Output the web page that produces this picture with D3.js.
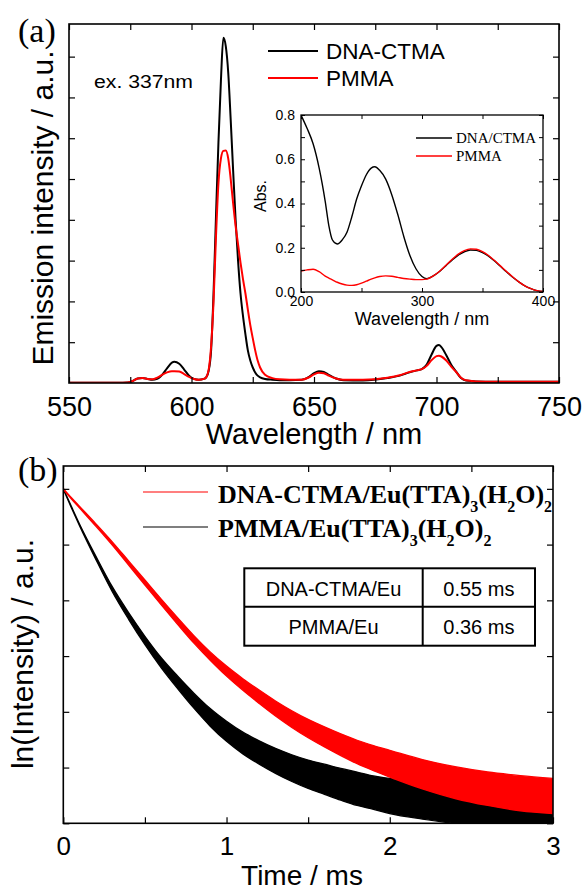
<!DOCTYPE html>
<html><head><meta charset="utf-8">
<script src="https://cdn.jsdelivr.net/npm/d3@7"></script>
<style>
html,body{margin:0;padding:0;background:#fff;}
svg{display:block;}
text{font-family:"Liberation Sans",Arial,sans-serif;fill:#000;}
.serif{font-family:"Liberation Serif","Times New Roman",serif;}
</style></head>
<body>
<svg id="c" width="587" height="891"></svg>
<script>
// ---------- Panel (a): emission spectra ----------
const emWavelength = [550,570,574,576,578,580,582,584,586,588,590,592,593,595,597,599,601,603,605,606,607,608,609,610,611,612,613,614,615,616,617,618,619,620,621,622,623,624,625,626,627,628,630,633,636,640,645,648,650,652,654,656,659,662,670,680,685,689,692,694,696,698,700,701,702,704,706,708,710,712,720,735,750];
const emDNA = [0.005,0.005,0.01,0.05,0.11,0.12,0.1,0.08,0.1,0.2,0.36,0.5,0.52,0.47,0.33,0.18,0.1,0.08,0.1,0.14,0.3,0.8,2.2,4.1,5.9,7.4,8.46,8.25,7.6,6.45,5.2,4.0,3.0,2.2,1.65,1.2,0.8,0.55,0.38,0.26,0.18,0.14,0.1,0.08,0.07,0.07,0.08,0.15,0.24,0.29,0.27,0.2,0.11,0.07,0.06,0.12,0.18,0.26,0.31,0.34,0.45,0.7,0.91,0.93,0.88,0.68,0.45,0.28,0.12,0.06,0.03,0.03,0.03];
const emPMMA = [0.005,0.005,0.01,0.05,0.11,0.12,0.1,0.09,0.13,0.2,0.26,0.29,0.29,0.28,0.22,0.15,0.1,0.08,0.1,0.14,0.32,0.9,2.0,3.6,4.9,5.5,5.69,5.7,5.5,5.0,4.4,3.85,3.4,2.95,2.55,2.2,1.8,1.42,1.1,0.8,0.55,0.38,0.2,0.12,0.09,0.08,0.08,0.14,0.21,0.25,0.24,0.18,0.11,0.08,0.08,0.13,0.19,0.27,0.31,0.34,0.42,0.56,0.66,0.67,0.65,0.55,0.4,0.27,0.13,0.07,0.03,0.03,0.03];
const emXTicks = [550,575,600,625,650,675,700,725,750];
const emYTicks = [1,2,3,4,5,6,7,8];

// inset: absorption
const absWavelength = [200,205,210,215,220,223,226,230,234,238,242,246,250,254,258,261,265,270,275,280,285,290,295,300,304,310,315,320,325,330,335,340,345,350,355,360,365,370,375,380,385,390,395,400];
const absDNA = [0.8,0.74,0.67,0.56,0.41,0.3,0.235,0.217,0.235,0.27,0.34,0.42,0.48,0.53,0.56,0.566,0.55,0.51,0.44,0.35,0.25,0.165,0.105,0.07,0.06,0.075,0.095,0.12,0.145,0.167,0.182,0.19,0.188,0.178,0.162,0.14,0.115,0.09,0.067,0.046,0.028,0.015,0.006,0.002];
const absPMMA = [0.095,0.1,0.103,0.092,0.072,0.063,0.055,0.044,0.036,0.031,0.03,0.033,0.04,0.049,0.058,0.064,0.07,0.073,0.071,0.066,0.061,0.058,0.056,0.056,0.058,0.075,0.096,0.122,0.148,0.171,0.187,0.195,0.193,0.182,0.165,0.142,0.117,0.092,0.068,0.046,0.028,0.015,0.006,0.002];
const absXTicks = [200,250,300,350,400];
const absYTicks = [0,0.1,0.2,0.3,0.4,0.5,0.6,0.7,0.8];

// ---------- Panel (b): decay ----------
const decayTime = [0,0.05,0.1,0.2,0.3,0.4,0.5,0.6,0.7,0.8,0.9,1.0,1.1,1.2,1.3,1.4,1.5,1.6,1.7,1.8,1.9,2.0,2.2,2.4,2.6,2.8,3.0];
const decayDNA = [6.0,5.83,5.67,5.35,5.02,4.67,4.32,3.97,3.63,3.3,3.0,2.73,2.49,2.27,2.06,1.87,1.7,1.55,1.41,1.28,1.17,1.07,0.88,0.73,0.62,0.54,0.49];
const decayDNASpread = [0.01,0.015,0.02,0.03,0.04,0.05,0.06,0.07,0.08,0.09,0.1,0.12,0.14,0.16,0.18,0.2,0.22,0.24,0.26,0.28,0.3,0.32,0.35,0.38,0.4,0.42,0.42];
const decayPMMA = [6.0,5.67,5.35,4.76,4.2,3.72,3.28,2.88,2.53,2.2,1.9,1.65,1.44,1.27,1.12,0.99,0.88,0.79,0.7,0.62,0.55,0.49,0.39,0.31,0.24,0.2,0.17];
const decayPMMASpread = [0.01,0.015,0.02,0.04,0.06,0.08,0.1,0.12,0.15,0.18,0.21,0.24,0.26,0.28,0.3,0.32,0.34,0.36,0.38,0.4,0.4,0.42,0.42,0.42,0.42,0.42,0.42];
const decayXTicks = [0,0.5,1,1.5,2,2.5,3];
const decayYTicks = [0,1,2,3,4,5,6];
const lifetimeRows = [["DNA-CTMA/Eu","0.55 ms"],["PMMA/Eu","0.36 ms"]];

const svg = d3.select("#c");

function frameAxes(g, x, y, xt, yt, opt){
  const [x0,x1] = x.range(), [y0,y1] = y.range();
  const ts = opt.tick;
  const mk = (axis, tr) => {
    const a = g.append("g").attr("transform", tr).call(axis);
    a.select(".domain").remove();
    a.selectAll(".tick line").attr("stroke","#000").attr("stroke-width",opt.tw||1.2);
    return a;
  };
  const bx = mk(d3.axisBottom(x).tickValues(xt).tickSize(-ts).tickPadding(opt.xpad).tickFormat(opt.xfmt), `translate(0,${y0})`);
  bx.selectAll("text").attr("font-size",opt.xfs).attr("fill","#000").attr("font-family",'"Liberation Sans",Arial,sans-serif');
  mk(d3.axisTop(x).tickValues(xt).tickSize(-ts).tickFormat(""), `translate(0,${y1})`);
  const ly = mk(d3.axisLeft(y).tickValues(yt).tickSize(-ts).tickPadding(opt.ypad||4).tickFormat(opt.yfmt||(()=>"")), `translate(${x0},0)`);
  ly.selectAll("text").attr("font-size",opt.yfs||12).attr("fill","#000").attr("font-family",'"Liberation Sans",Arial,sans-serif');
  mk(d3.axisRight(y).tickValues(yt).tickSize(-ts).tickFormat(""), `translate(${x1},0)`);
  g.append("rect").attr("x",x0).attr("y",y1).attr("width",x1-x0).attr("height",y0-y1)
    .attr("fill","none").attr("stroke","#000").attr("stroke-width",opt.fw||1.5);
  return {bx, ly};
}

// ===== Panel (a) =====
const xA = d3.scaleLinear().domain([550,750]).range([69,559]);
const yA = d3.scaleLinear().domain([0,8.8]).range([383,24]);
const gA = svg.append("g");
svg.append("clipPath").attr("id","clipA").append("rect").attr("x",69).attr("y",24).attr("width",490).attr("height",359);
const lineA = d3.line().x((d,i)=>xA(emWavelength[i])).y(d=>yA(d)).curve(d3.curveMonotoneX);
gA.append("path").attr("clip-path","url(#clipA)").attr("d",lineA(emDNA)).attr("fill","none").attr("stroke","#000").attr("stroke-width",2);
gA.append("path").attr("clip-path","url(#clipA)").attr("d",lineA(emPMMA)).attr("fill","none").attr("stroke","#ff0000").attr("stroke-width",2);
frameAxes(gA, xA, yA, emXTicks, emYTicks, {tick:6, xpad:14, xfs:27, xfmt:d=> d%50===0? d : "", fw:1.6});

gA.append("text").attr("x",18).attr("y",42).attr("class","serif").attr("font-size",34).text("(a)");
gA.append("text").attr("x",94).attr("y",88).attr("font-size",18).attr("textLength",99).attr("lengthAdjust","spacingAndGlyphs").text("ex. 337nm");
gA.append("text").attr("transform","translate(53,208) rotate(-90)").attr("text-anchor","middle").attr("font-size",30).text("Emission intensity / a.u.");
gA.append("text").attr("x",314).attr("y",444).attr("text-anchor","middle").attr("font-size",29).text("Wavelength / nm");
// legend
[["DNA-CTMA","#000",51,59],["PMMA","#ff0000",78,86]].forEach(([t,c,ly,ty])=>{
  gA.append("line").attr("x1",268).attr("x2",318).attr("y1",ly).attr("y2",ly).attr("stroke",c).attr("stroke-width",2);
  gA.append("text").attr("x",326).attr("y",ty).attr("font-size",22.5).text(t);
});

// inset
const xI = d3.scaleLinear().domain([200,400]).range([301,543]);
const yI = d3.scaleLinear().domain([0,0.8]).range([292,115]);
const gI = svg.append("g");
gI.append("rect").attr("x",301).attr("y",115).attr("width",242).attr("height",177).attr("fill","#fff");
svg.append("clipPath").attr("id","clipI").append("rect").attr("x",301).attr("y",115).attr("width",242).attr("height",177);
const lineI = d3.line().x((d,i)=>xI(absWavelength[i])).y(d=>yI(d)).curve(d3.curveMonotoneX);
gI.append("path").attr("clip-path","url(#clipI)").attr("d",lineI(absDNA)).attr("fill","none").attr("stroke","#000").attr("stroke-width",1.4);
gI.append("path").attr("clip-path","url(#clipI)").attr("d",lineI(absPMMA)).attr("fill","none").attr("stroke","#ff0000").attr("stroke-width",1.4);
frameAxes(gI, xI, yI, absXTicks, absYTicks, {tick:4, tw:1, xpad:4, xfs:14, xfmt:d=> d%100===0? d : "", ypad:6, yfs:14, yfmt:d=> (Math.round(d*10)%2===0)? d3.format(".1f")(d) : "", fw:1.3});
gI.append("text").attr("transform","translate(266,196) rotate(-90)").attr("text-anchor","middle").attr("font-size",16).text("Abs.");
gI.append("text").attr("x",422).attr("y",325).attr("text-anchor","middle").attr("font-size",18).text("Wavelength / nm");
[["DNA/CTMA","#000",138,143],["PMMA","#ff0000",156,161]].forEach(([t,c,ly,ty])=>{
  gI.append("line").attr("x1",416).attr("x2",452).attr("y1",ly).attr("y2",ly).attr("stroke",c).attr("stroke-width",1.4);
  gI.append("text").attr("x",456).attr("y",ty).attr("class","serif").attr("font-size",15).text(t);
});

// ===== Panel (b) =====
const xB = d3.scaleLinear().domain([0,3]).range([63.3,553]);
const yB = d3.scaleLinear().domain([0,6.41]).range([823.3,466]);
const gB = svg.append("g");
svg.append("clipPath").attr("id","clipB").append("rect").attr("x",63.3).attr("y",466).attr("width",489.7).attr("height",357.3);
const bandB = (mid, spr, k) => d3.area().x((d,i)=>xB(decayTime[i])).y0((d,i)=>yB(mid[i]-k*spr[i])).y1((d,i)=>yB(mid[i]+k*spr[i])).curve(d3.curveMonotoneX)(mid);
const bands = [[decayPMMA,decayPMMASpread,"#000"],[decayDNA,decayDNASpread,"#ff0000"]];
bands.forEach(([m,s,c])=>{
  gB.append("path").attr("clip-path","url(#clipB)").attr("d",bandB(m,s,0.75)).attr("fill",c).attr("stroke",c).attr("stroke-width",1.3);
});
frameAxes(gB, xB, yB, decayXTicks, decayYTicks, {tick:6, xpad:13, xfs:26, xfmt:d=> Number.isInteger(d)? d : "", fw:1.6});

gB.append("text").attr("x",18).attr("y",481).attr("class","serif").attr("font-size",34).text("(b)");
gB.append("text").attr("transform","translate(33,654) rotate(-90)").attr("text-anchor","middle").attr("font-size",30).text("ln(Intensity) / a.u.");
gB.append("text").attr("x",302).attr("y",885).attr("text-anchor","middle").attr("font-size",28).text("Time / ms");

// legend (b)
function formula(g, x, y, parts){
  const t = g.append("text").attr("x",x).attr("y",y).attr("class","serif").attr("font-size",26).attr("font-weight","bold");
  let low = false;
  parts.forEach(([s,sub])=>{
    const sp = t.append("tspan").text(s);
    if(sub){ sp.attr("font-size",16); if(!low){ sp.attr("dy",9); low=true; } }
    else { if(low){ sp.attr("dy",-9); low=false; } }
  });
  return t;
}
gB.append("line").attr("x1",143).attr("x2",208).attr("y1",492).attr("y2",492).attr("stroke","#ff0000").attr("stroke-width",1.2);
gB.append("line").attr("x1",143).attr("x2",208).attr("y1",527).attr("y2",527).attr("stroke","#000").attr("stroke-width",1.2);
formula(gB,218,503,[["DNA-CTMA/Eu(TTA)",0],["3",1],["(H",0],["2",1],["O)",0],["2",1]]);
formula(gB,218,537,[["PMMA/Eu(TTA)",0],["3",1],["(H",0],["2",1],["O)",0],["2",1]]);

// table
const tx0=244.3, tx1=535, txm=422.7, ty0=568.3, tym=606.7, ty1=645.7;
gB.append("rect").attr("x",tx0).attr("y",ty0).attr("width",tx1-tx0).attr("height",ty1-ty0).attr("fill","#fff").attr("stroke","#000").attr("stroke-width",2);
gB.append("line").attr("x1",tx0).attr("x2",tx1).attr("y1",tym).attr("y2",tym).attr("stroke","#000").attr("stroke-width",2);
gB.append("line").attr("x1",txm).attr("x2",txm).attr("y1",ty0).attr("y2",ty1).attr("stroke","#000").attr("stroke-width",2);
lifetimeRows.forEach((r,i)=>{
  const by = [596,634][i];
  gB.append("text").attr("x",(tx0+txm)/2).attr("y",by).attr("text-anchor","middle").attr("font-size",20).text(r[0]);
  gB.append("text").attr("x",(txm+tx1)/2).attr("y",by).attr("text-anchor","middle").attr("font-size",20).text(r[1]);
});
</script>
</body></html>
